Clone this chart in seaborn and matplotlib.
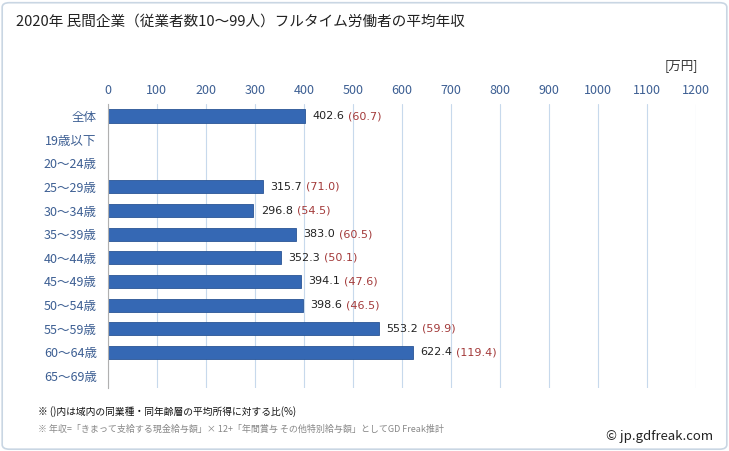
import matplotlib
matplotlib.use("Agg")
import matplotlib.pyplot as plt
import seaborn as sns
import numpy as np
import pandas as pd
from matplotlib.patches import FancyBboxPatch

categories = ["全体", "19歳以下", "20～24歳", "25～29歳", "30～34歳", "35～39歳", "40～44歳",
              "45～49歳", "50～54歳", "55～59歳", "60～64歳", "65～69歳"]
values = [402.6, np.nan, np.nan, 315.7, 296.8, 383.0, 352.3, 394.1, 398.6, 553.2, 622.4, np.nan]
ratios = [60.7, np.nan, np.nan, 71.0, 54.5, 60.5, 50.1, 47.6, 46.5, 59.9, 119.4, np.nan]
xticks = [0, 100, 200, 300, 400, 500, 600, 700, 800, 900, 1000, 1100, 1200]

sns.set_theme(style="white")
plt.rcParams['font.family'] = ['Noto Sans CJK JP', 'DejaVu Sans']

df = pd.DataFrame({"cat": categories, "val": values})

fig = plt.figure(figsize=(7.29, 4.51), dpi=100)
fig.patches.append(FancyBboxPatch((0.003, 0.004), 0.994, 0.99, boxstyle="round,pad=0,rounding_size=0.01",
                                  transform=fig.transFigure, fill=False, edgecolor="#c9d6e3", linewidth=1.2))
ax = fig.add_axes([0.148, 0.140, 0.807, 0.629])

sns.barplot(data=df, y="cat", x="val", order=categories, color="#3568b4", orient="h",
            width=0.55, ax=ax, saturation=1, edgecolor="#2a5596", linewidth=0.6)

ax.set_xlim(0, 1200)
ax.set_ylim(len(categories) - 0.5, -0.5)
ax.set_xticks(xticks)
ax.set_xticklabels([str(t) for t in xticks])
ax.xaxis.tick_top()
ax.tick_params(axis="x", length=0, pad=5, labelsize=9, labelcolor="#3d5f93")
ax.tick_params(axis="y", length=0, pad=8, labelsize=9, labelcolor="#3d5f93")
ax.set_xlabel("")
ax.set_ylabel("")
ax.grid(axis="x", color="#c7d9ec", linewidth=0.8)
ax.set_axisbelow(True)
for s in ["top", "right", "bottom"]:
    ax.spines[s].set_visible(False)
ax.spines["left"].set_color("#b0b0b0")
ax.spines["left"].set_linewidth(0.8)

for i, (v, r) in enumerate(zip(values, ratios)):
    if np.isnan(v):
        continue
    t = ax.text(v + 15, i, f"{v:.1f}", va="center", ha="left", fontsize=8, color="#222222",
                family=["DejaVu Sans"])
    fig.canvas.draw()
    bb = t.get_window_extent()
    x_end = ax.transData.inverted().transform((bb.x1, 0))[0]
    ax.text(x_end + 8, i, f"({r:.1f})", va="center", ha="left", fontsize=8, color="#a33a3a",
            family=["DejaVu Sans"])

fig.text(0.022, 0.952, "2020年 民間企業（従業者数10～99人）フルタイム労働者の平均年収", fontsize=10.5,
         color="#222222", va="center", ha="left")
fig.text(0.957, 0.855, "[万円]", fontsize=9, color="#333333", ha="right", va="center")
fig.text(0.052, 0.088, "※ ()内は域内の同業種・同年齢層の平均所得に対する比(%)", fontsize=7,
         color="#111111", ha="left", va="center")
fig.text(0.052, 0.048, "※ 年収=「きまって支給する現金給与額」× 12+「年間賞与 その他特別給与額」としてGD Freak推計",
         fontsize=6.5, color="#888888", ha="left", va="center")
fig.text(0.978, 0.032, "© jp.gdfreak.com", fontsize=9.5, color="#222222", ha="right", va="center")

fig.savefig("out.png", dpi=100)
